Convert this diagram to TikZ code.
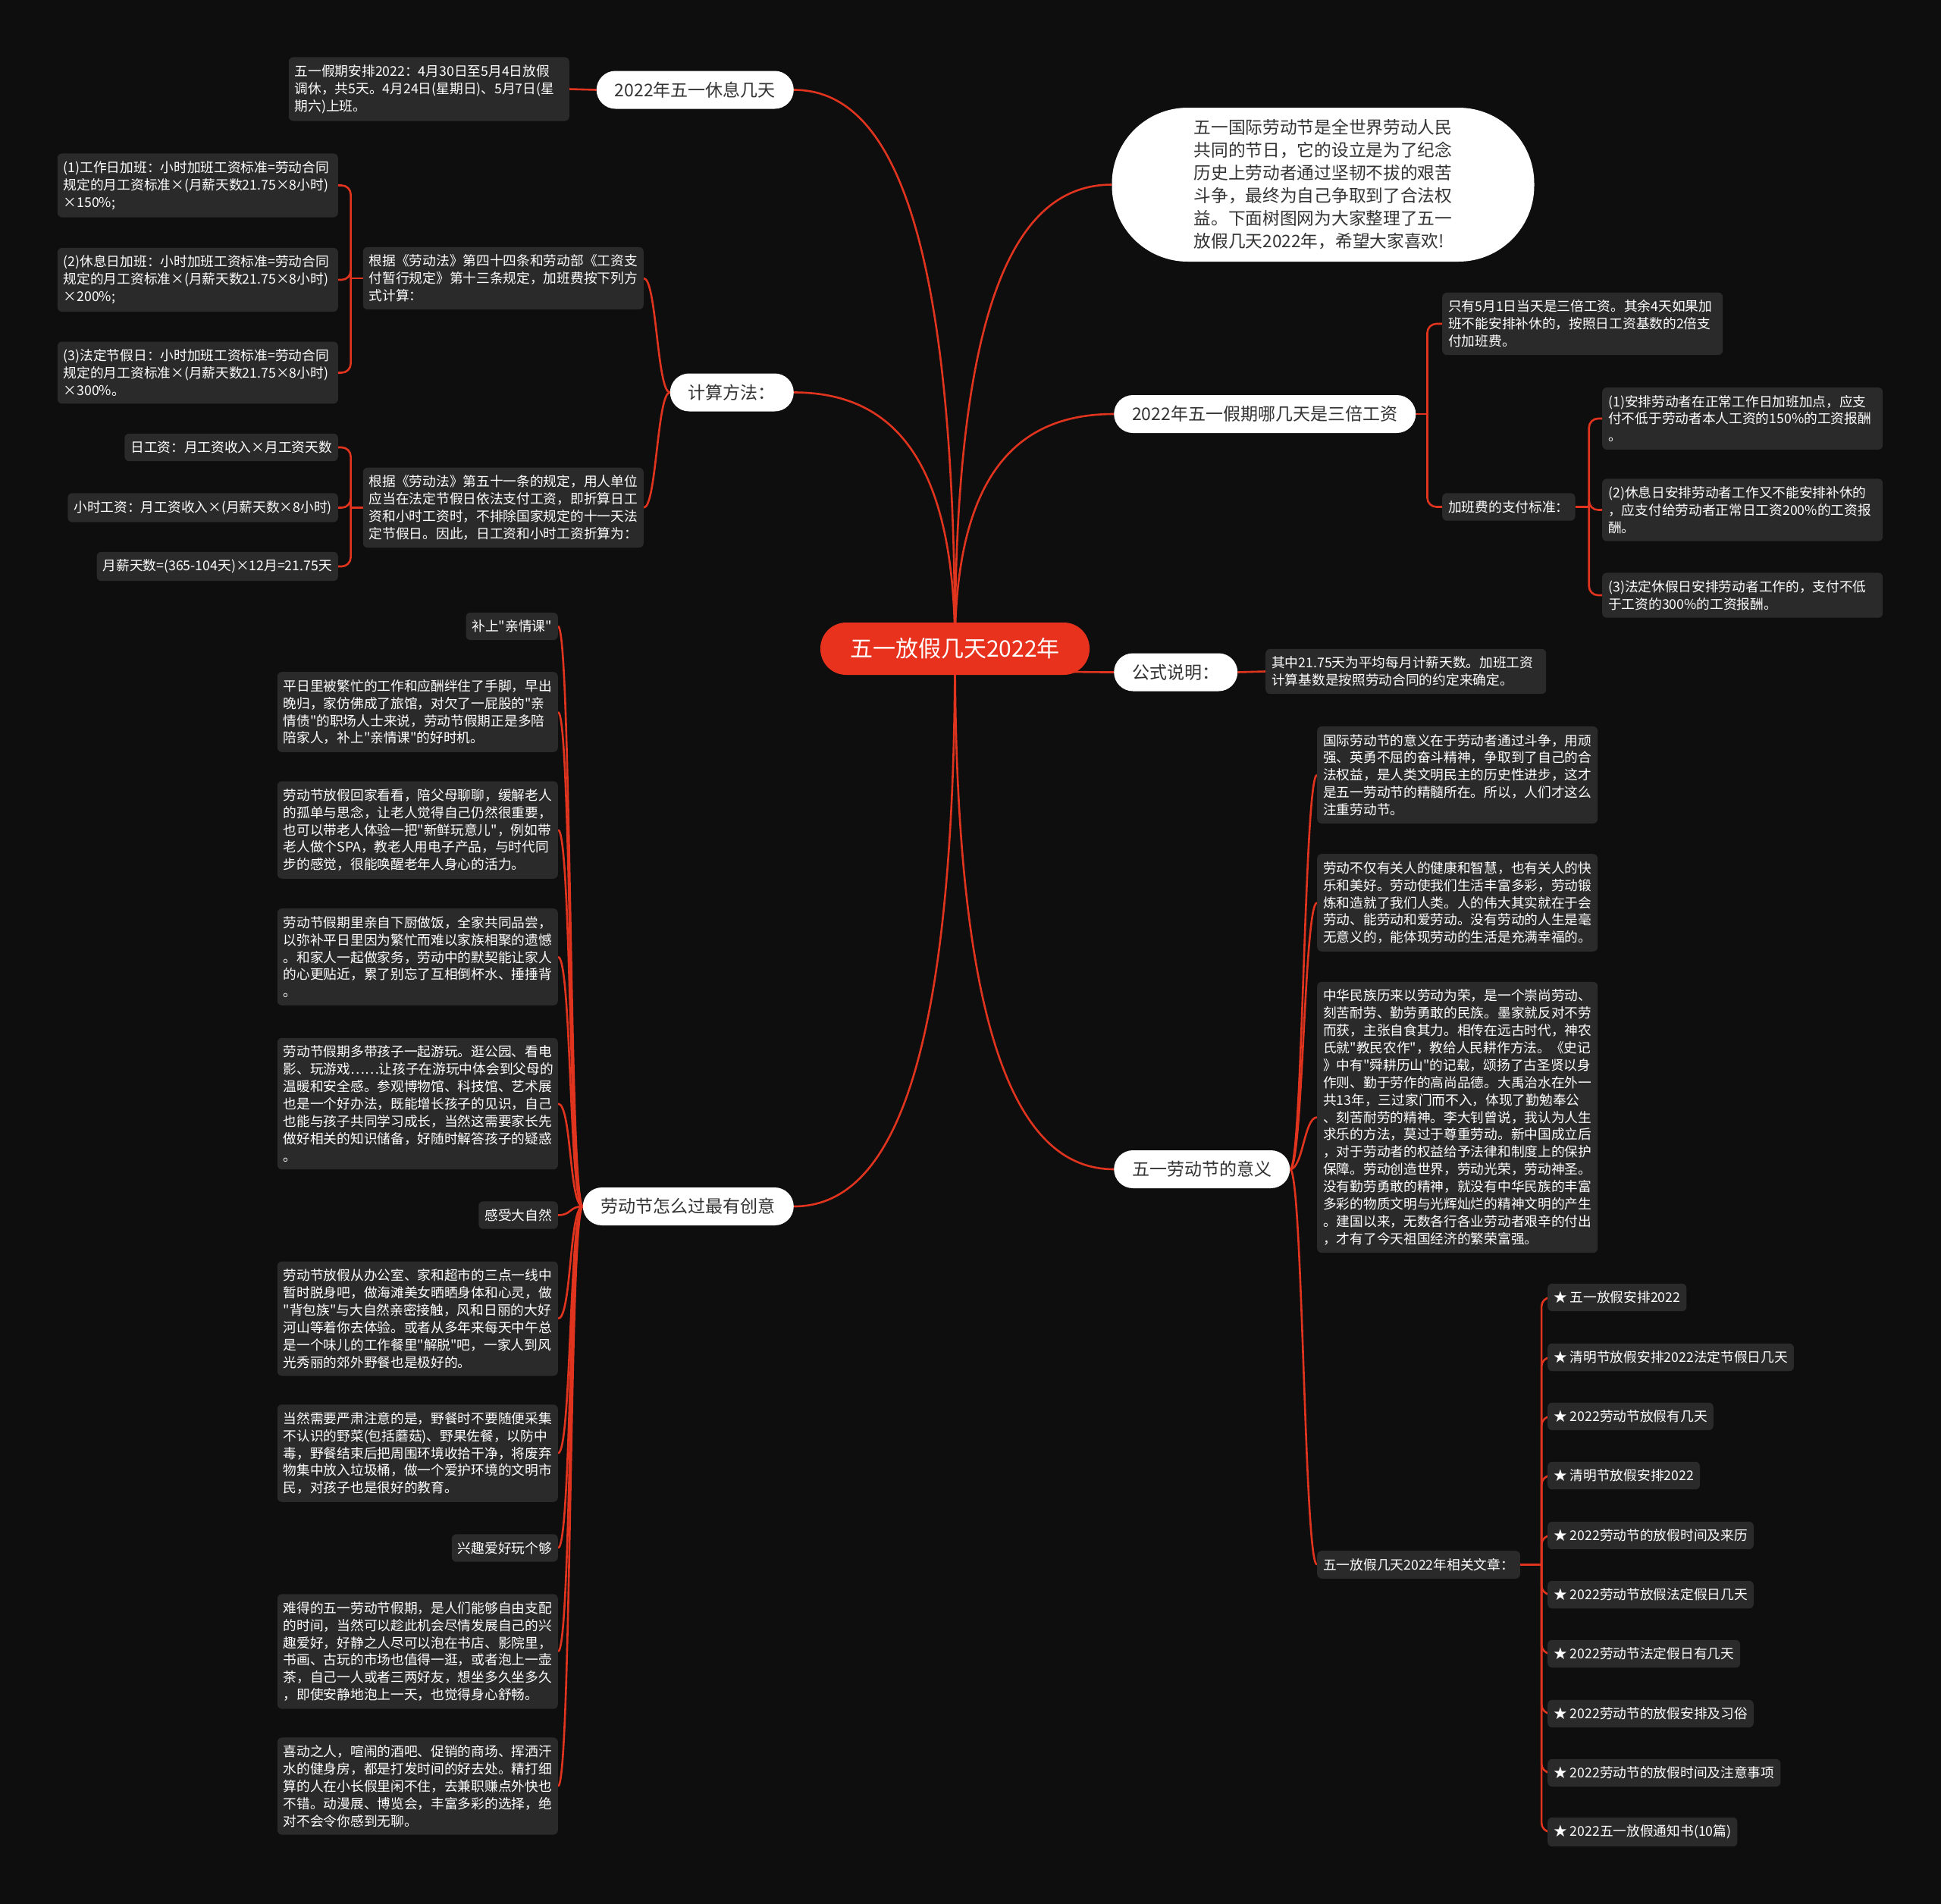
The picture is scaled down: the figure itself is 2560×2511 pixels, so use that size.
\documentclass[tikz,border=0pt]{standalone}
\usepackage{fontspec}
\setmainfont{Noto Sans CJK SC}[Ligatures=TeXOff]
\usetikzlibrary{backgrounds}

\definecolor{bgcol}{HTML}{0E0E0E}
\definecolor{leafgray}{HTML}{2A2A2A}
\definecolor{linkred}{HTML}{E0341F}
\definecolor{rootred}{HTML}{E8321E}
\definecolor{pilltext}{HTML}{333333}

\tikzset{
  root/.style={fill=rootred, text=white, rounded corners=34pt, minimum width=355pt,
    minimum height=69pt, font=\fontsize{30}{36}\selectfont},
  topic/.style={fill=white, text=pilltext, rounded corners=25pt, minimum height=50pt,
    inner xsep=24pt, font=\fontsize{23}{28}\selectfont},
  leaf/.style={fill=leafgray, text=white, rounded corners=6pt, inner xsep=8pt,
    inner ysep=10pt, font=\fontsize{17.7}{22.9}\selectfont},
  wide/.style={leaf, text width=354pt, align=left},
  link/.style={draw=linkred, line width=2.6pt},
  bracket/.style={link, rounded corners=12pt},
}

\begin{document}
\begin{tikzpicture}[x=1pt,y=-1pt]
  \begin{pgfonlayer}{background}
    \fill[bgcol] (0,0) rectangle (2560,2511);
  \end{pgfonlayer}
  \useasboundingbox (0,0) rectangle (2560,2511);

  % centre and main topics
  \node[root] (root) at (1259.5,855.5) {五一放假几天2022年};
  \node[topic, anchor=east] (holiday) at (1047,118.5) {2022年五一休息几天};
  \node[topic, anchor=east] (calc) at (1047,517.5) {计算方法：};
  \node[topic, anchor=east] (howto) at (1047,1591) {劳动节怎么过最有创意};
  \node[topic, rounded corners=100pt, minimum width=557pt, minimum height=203pt,
    align=left, font=\fontsize{22.7}{30}\selectfont] (intro) at (1745,243.5)
    {五一国际劳动节是全世界劳动人民\\共同的节日，它的设立是为了纪念\\历史上劳动者通过坚韧不拔的艰苦\\斗争，最终为自己争取到了合法权\\益。下面树图网为大家整理了五一\\放假几天2022年，希望大家喜欢!};
  \node[topic, anchor=west] (triple) at (1469,546) {2022年五一假期哪几天是三倍工资};
  \node[topic, anchor=west] (formula) at (1469,886.5) {公式说明：};
  \node[topic, anchor=west] (meaning) at (1469,1542) {五一劳动节的意义};

  % left: holiday and calculation
  \node[wide, anchor=east] (plan) at (751,117.5)
    {五一假期安排2022：4月30日至5月4日放假\\调休，共5天。4月24日(星期日)、5月7日(星\\期六)上班。};
  \node[wide, anchor=east] (rule44) at (849,367)
    {根据《劳动法》第四十四条和劳动部《工资支\\付暂行规定》第十三条规定，加班费按下列方\\式计算：};
  \node[wide, anchor=east] (rule51) at (849,669.5)
    {根据《劳动法》第五十一条的规定，用人单位\\应当在法定节假日依法支付工资，即折算日工\\资和小时工资时，不排除国家规定的十一天法\\定节假日。因此，日工资和小时工资折算为：};
  \node[wide, anchor=east] (ot1) at (446,244.5)
    {(1)工作日加班：小时加班工资标准=劳动合同\\规定的月工资标准×(月薪天数21.75×8小时)\\×150\%;};
  \node[wide, anchor=east] (ot2) at (446,369)
    {(2)休息日加班：小时加班工资标准=劳动合同\\规定的月工资标准×(月薪天数21.75×8小时)\\×200\%;};
  \node[wide, anchor=east] (ot3) at (446,491.5)
    {(3)法定节假日：小时加班工资标准=劳动合同\\规定的月工资标准×(月薪天数21.75×8小时)\\×300\%。};
  \node[leaf, anchor=east] (daywage) at (446,590) {日工资：月工资收入×月工资天数};
  \node[leaf, anchor=east] (hourwage) at (446,669.5) {小时工资：月工资收入×(月薪天数×8小时)};
  \node[leaf, anchor=east] (monthdays) at (446,747) {月薪天数=(365-104天)×12月=21.75天};

  % left: how to spend the holiday
  \node[leaf, anchor=east] (fam) at (736,826) {补上"亲情课"};
  \node[wide, anchor=east] (famtext) at (736,939)
    {平日里被繁忙的工作和应酬绊住了手脚，早出\\晚归，家仿佛成了旅馆，对欠了一屁股的"亲\\情债"的职场人士来说，劳动节假期正是多陪\\陪家人，补上"亲情课"的好时机。};
  \node[wide, anchor=east] (parents) at (736,1094.5)
    {劳动节放假回家看看，陪父母聊聊，缓解老人\\的孤单与思念，让老人觉得自己仍然很重要，\\也可以带老人体验一把"新鲜玩意儿"，例如带\\老人做个SPA，教老人用电子产品，与时代同\\步的感觉，很能唤醒老年人身心的活力。};
  \node[wide, anchor=east] (cook) at (736,1262)
    {劳动节假期里亲自下厨做饭，全家共同品尝，\\以弥补平日里因为繁忙而难以家族相聚的遗憾\\。和家人一起做家务，劳动中的默契能让家人\\的心更贴近，累了别忘了互相倒杯水、捶捶背\\。};
  \node[wide, anchor=east] (kids) at (736,1455.5)
    {劳动节假期多带孩子一起游玩。逛公园、看电\\影、玩游戏……让孩子在游玩中体会到父母的\\温暖和安全感。参观博物馆、科技馆、艺术展\\也是一个好办法，既能增长孩子的见识，自己\\也能与孩子共同学习成长，当然这需要家长先\\做好相关的知识储备，好随时解答孩子的疑惑\\。};
  \node[leaf, anchor=east] (nature) at (736,1602.5) {感受大自然};
  \node[wide, anchor=east] (naturetext) at (736,1739)
    {劳动节放假从办公室、家和超市的三点一线中\\暂时脱身吧，做海滩美女晒晒身体和心灵，做\\"背包族"与大自然亲密接触，风和日丽的大好\\河山等着你去体验。或者从多年来每天中午总\\是一个味儿的工作餐里"解脱"吧，一家人到风\\光秀丽的郊外野餐也是极好的。};
  \node[wide, anchor=east] (picnic) at (736,1916.5)
    {当然需要严肃注意的是，野餐时不要随便采集\\不认识的野菜(包括蘑菇)、野果佐餐，以防中\\毒，野餐结束后把周围环境收拾干净，将废弃\\物集中放入垃圾桶，做一个爱护环境的文明市\\民，对孩子也是很好的教育。};
  \node[leaf, anchor=east] (hobby) at (736,2041.5) {兴趣爱好玩个够};
  \node[wide, anchor=east] (hobbytext) at (736,2178)
    {难得的五一劳动节假期，是人们能够自由支配\\的时间，当然可以趁此机会尽情发展自己的兴\\趣爱好，好静之人尽可以泡在书店、影院里，\\书画、古玩的市场也值得一逛，或者泡上一壶\\茶，自己一人或者三两好友，想坐多久坐多久\\，即使安静地泡上一天，也觉得身心舒畅。};
  \node[wide, anchor=east] (active) at (736,2355.5)
    {喜动之人，喧闹的酒吧、促销的商场、挥洒汗\\水的健身房，都是打发时间的好去处。精打细\\算的人在小长假里闲不住，去兼职赚点外快也\\不错。动漫展、博览会，丰富多彩的选择，绝\\对不会令你感到无聊。};

  % right: triple pay and formula
  \node[wide, anchor=west] (tripleonly) at (1902,427)
    {只有5月1日当天是三倍工资。其余4天如果加\\班不能安排补休的，按照日工资基数的2倍支\\付加班费。};
  \node[leaf, anchor=west] (paystd) at (1902,668.5) {加班费的支付标准：};
  \node[wide, anchor=west] (pay1) at (2113,552)
    {(1)安排劳动者在正常工作日加班加点，应支\\付不低于劳动者本人工资的150\%的工资报酬\\。};
  \node[wide, anchor=west] (pay2) at (2113,672.5)
    {(2)休息日安排劳动者工作又不能安排补休的\\，应支付给劳动者正常日工资200\%的工资报\\酬。};
  \node[wide, anchor=west] (pay3) at (2113,785)
    {(3)法定休假日安排劳动者工作的，支付不低\\于工资的300\%的工资报酬。};
  \node[wide, anchor=west] (formulanote) at (1669,885.5)
    {其中21.75天为平均每月计薪天数。加班工资\\计算基数是按照劳动合同的约定来确定。};

  % right: meaning of the day
  \node[wide, anchor=west] (mean1) at (1737,1022)
    {国际劳动节的意义在于劳动者通过斗争，用顽\\强、英勇不屈的奋斗精神，争取到了自己的合\\法权益，是人类文明民主的历史性进步，这才\\是五一劳动节的精髓所在。所以，人们才这么\\注重劳动节。};
  \node[wide, anchor=west] (mean2) at (1737,1190.5)
    {劳动不仅有关人的健康和智慧，也有关人的快\\乐和美好。劳动使我们生活丰富多彩，劳动锻\\炼和造就了我们人类。人的伟大其实就在于会\\劳动、能劳动和爱劳动。没有劳动的人生是毫\\无意义的，能体现劳动的生活是充满幸福的。};
  \node[wide, anchor=west] (mean3) at (1737,1473.5)
    {中华民族历来以劳动为荣，是一个崇尚劳动、\\刻苦耐劳、勤劳勇敢的民族。墨家就反对不劳\\而获，主张自食其力。相传在远古时代，神农\\氏就"教民农作"，教给人民耕作方法。《史记\\》中有"舜耕历山"的记载，颂扬了古圣贤以身\\作则、勤于劳作的高尚品德。大禹治水在外一\\共13年，三过家门而不入，体现了勤勉奉公\\、刻苦耐劳的精神。李大钊曾说，我认为人生\\求乐的方法，莫过于尊重劳动。新中国成立后\\，对于劳动者的权益给予法律和制度上的保护\\保障。劳动创造世界，劳动光荣，劳动神圣。\\没有勤劳勇敢的精神，就没有中华民族的丰富\\多彩的物质文明与光辉灿烂的精神文明的产生\\。建国以来，无数各行各业劳动者艰辛的付出\\，才有了今天祖国经济的繁荣富强。};
  \node[leaf, anchor=west] (related) at (1737,2063.5) {五一放假几天2022年相关文章：};

  \foreach \i/\y/\t in {1/1711/五一放假安排2022, 2/1790/清明节放假安排2022法定节假日几天,
      3/1868/2022劳动节放假有几天, 4/1946/清明节放假安排2022, 5/2025/2022劳动节的放假时间及来历,
      6/2103/2022劳动节放假法定假日几天, 7/2181/2022劳动节法定假日有几天,
      8/2260/2022劳动节的放假安排及习俗, 9/2338/2022劳动节的放假时间及注意事项,
      10/2416/2022五一放假通知书(10篇)}
    \node[leaf, anchor=west] (art\i) at (2041,\y) {★ \t};

  % connectors
  \begin{pgfonlayer}{background}
    \draw[link] (holiday.east) .. controls +(128,0) and +(0,-553) .. (root.center);
    \draw[link] (calc.east) .. controls +(128,0) and +(0,-253) .. (root.center);
    \draw[link] (howto.east) .. controls +(128,0) and +(0,552) .. (root.center);
    \draw[link] (intro.west) .. controls +(-126,0) and +(0,-459) .. (root.center);
    \draw[link] (triple.west) .. controls +(-126,0) and +(0,-232) .. (root.center);
    \draw[link] (formula.west) .. controls +(-126,0) and +(0,23) .. (root.center);
    \draw[link] (meaning.west) .. controls +(-126,0) and +(0,515) .. (root.center);

    \draw[link] (holiday.west) -- (plan.east);
    \draw[link] (formula.east) -- (formulanote.west);
    \foreach \n in {rule44,rule51}
      \draw[link] (calc.west) .. controls +(-17,0) and +(17,0) .. (\n.east);
    \foreach \n in {fam,famtext,parents,cook,kids,nature,naturetext,picnic,hobby,hobbytext,active}
      \draw[link] (howto.west) .. controls +(-18,0) and +(18,0) .. (\n.east);
    \foreach \n in {mean1,mean2,mean3,related}
      \draw[link] (meaning.east) .. controls +(17,0) and +(-17,0) .. (\n.west);

    % bracket stubs, then one rounded elbow per child
    \draw[link] (rule44.west) -- ++(-16,0) coordinate (otbus);
    \draw[link] (rule51.west) -- ++(-16,0) coordinate (wagebus);
    \draw[link] (triple.east) -- ++(15,0) coordinate (triplebus);
    \draw[link] (paystd.east) -- ++(18,0) coordinate (paybus);
    \draw[link] (related.east) -- ++(28,0) coordinate (artbus);
    \foreach \n in {ot1,ot2,ot3}
      \draw[bracket] (otbus) |- (\n.east);
    \foreach \n in {daywage,hourwage,monthdays}
      \draw[bracket] (wagebus) |- (\n.east);
    \foreach \n in {tripleonly,paystd}
      \draw[bracket] (triplebus) |- (\n.west);
    \foreach \n in {pay1,pay2,pay3}
      \draw[bracket] (paybus) |- (\n.west);
    \foreach \i in {1,...,10}
      \draw[bracket] (artbus) |- (art\i.west);
  \end{pgfonlayer}
\end{tikzpicture}
\end{document}
